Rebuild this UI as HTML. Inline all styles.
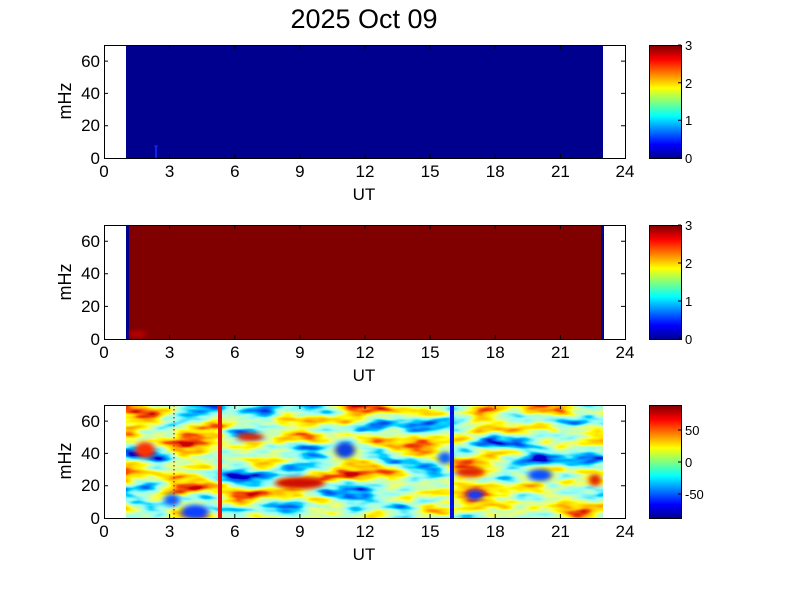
<!DOCTYPE html><html><head><style>
body{margin:0;background:#fff;width:801px;height:600px;overflow:hidden;font-family:"Liberation Sans",sans-serif}
</style></head><body>
<svg width="801" height="600" xmlns="http://www.w3.org/2000/svg" font-family="Liberation Sans, sans-serif">
<defs>
<linearGradient id="jet" x1="0" y1="1" x2="0" y2="0">
<stop offset="0" stop-color="#00008f"/><stop offset="0.125" stop-color="#0000ff"/><stop offset="0.375" stop-color="#00ffff"/><stop offset="0.625" stop-color="#ffff00"/><stop offset="0.875" stop-color="#ff0000"/><stop offset="1" stop-color="#800000"/>
</linearGradient>
<filter id="bl" x="-20%" y="-50%" width="140%" height="200%"><feGaussianBlur stdDeviation="3 2"/></filter>
<filter id="noise" x="0" y="0" width="100%" height="100%">
<feTurbulence type="fractalNoise" baseFrequency="0.018 0.06" numOctaves="3" seed="7"/>
<feColorMatrix type="matrix" values="1.6 0 0 0 -0.3  1.6 0 0 0 -0.3  1.6 0 0 0 -0.3  0 0 0 0 1"/>
<feComponentTransfer>
<feFuncR type="table" tableValues="0 0 0 0.3 0.6 1 1 1 0.6"/>
<feFuncG type="table" tableValues="0 0.2 0.7 1 1 1 0.6 0.1 0"/>
<feFuncB type="table" tableValues="0.6 1 1 0.9 0.4 0 0 0 0"/>
</feComponentTransfer>
</filter>
<clipPath id="c3"><rect x="126" y="405" width="477" height="113"/></clipPath>
</defs>
<text x="364" y="28" font-size="27" text-anchor="middle">2025 Oct 09</text>

<rect x="126" y="45" width="477" height="113" fill="#00008f"/>
<line x1="156" y1="146" x2="156" y2="158" stroke="#1030ff" stroke-width="1.5"/>
<line x1="154" y1="146" x2="158" y2="146" stroke="#1030ff"/>
<rect x="126" y="225" width="477" height="114" fill="#800000"/>
<rect x="126" y="225" width="3" height="114" fill="#00008f"/>
<rect x="601" y="225" width="3" height="114" fill="#00008f"/>
<rect x="130" y="331" width="15" height="6" fill="#c00000" filter="url(#bl)"/>
<g clip-path="url(#c3)">
<rect x="126" y="405" width="477" height="113" fill="#9cff60" filter="url(#noise)"/>
<g filter="url(#bl)">
<ellipse cx="145" cy="450" rx="10" ry="8" fill="#ff3000"/>
<ellipse cx="172" cy="500" rx="8" ry="6" fill="#1060ff"/>
<ellipse cx="195" cy="512" rx="14" ry="7" fill="#1040ff"/>
<ellipse cx="250" cy="437" rx="14" ry="4" fill="#e02000"/>
<ellipse cx="300" cy="483" rx="25" ry="6" fill="#d01000"/>
<ellipse cx="345" cy="450" rx="10" ry="8" fill="#1040e0"/>
<ellipse cx="445" cy="458" rx="7" ry="6" fill="#1060ff"/>
<ellipse cx="470" cy="472" rx="15" ry="5" fill="#e02000"/>
<ellipse cx="475" cy="495" rx="8" ry="5" fill="#1040ff"/>
<ellipse cx="540" cy="475" rx="12" ry="6" fill="#1050ff"/>
<ellipse cx="595" cy="480" rx="6" ry="6" fill="#e02000"/>
</g>
<rect x="218" y="405" width="4" height="113" fill="#e01010"/>
<rect x="450" y="405" width="4" height="113" fill="#0010e0"/>
<line x1="174" y1="405" x2="174" y2="518" stroke="#d03030" stroke-dasharray="1.5 2.5" stroke-width="1.5"/>
</g>

<g fill="none" stroke="#000" stroke-width="1">
<rect x="104.5" y="45.5" width="521" height="113"/>
<rect x="104.5" y="225.5" width="521" height="114"/>
<rect x="104.5" y="405.5" width="521" height="113"/>
</g>
<g stroke="#000">
<path d="M169.6 158v-4M234.8 158v-4M299.9 158v-4M365 158v-4M430.1 158v-4M495.2 158v-4M560.4 158v-4M169.6 45v4M234.8 45v4M299.9 45v4M365 45v4M430.1 45v4M495.2 45v4M560.4 45v4"/>
<path d="M169.6 339v-4M234.8 339v-4M299.9 339v-4M365 339v-4M430.1 339v-4M495.2 339v-4M560.4 339v-4M169.6 225v4M234.8 225v4M299.9 225v4M365 225v4M430.1 225v4M495.2 225v4M560.4 225v4"/>
<path d="M169.6 518v-4M234.8 518v-4M299.9 518v-4M365 518v-4M430.1 518v-4M495.2 518v-4M560.4 518v-4M169.6 405v4M234.8 405v4M299.9 405v4M365 405v4M430.1 405v4M495.2 405v4M560.4 405v4"/>
<path d="M104 125.7h4M104 93.4h4M104 61.1h4M625 125.7h-4M625 93.4h-4M625 61.1h-4"/>
<path d="M104 306.4h4M104 273.8h4M104 241.3h4M625 306.4h-4M625 273.8h-4M625 241.3h-4"/>
<path d="M104 485.7h4M104 453.4h4M104 421.1h4M625 485.7h-4M625 453.4h-4M625 421.1h-4"/>
</g>
<g font-size="17" text-anchor="middle">
<g><text x="104" y="177">0</text><text x="169.6" y="177">3</text><text x="234.8" y="177">6</text><text x="299.9" y="177">9</text><text x="365" y="177">12</text><text x="430.1" y="177">15</text><text x="495.2" y="177">18</text><text x="560.4" y="177">21</text><text x="625" y="177">24</text><text x="364" y="200">UT</text></g>
<g transform="translate(0,181)"><text x="104" y="177">0</text><text x="169.6" y="177">3</text><text x="234.8" y="177">6</text><text x="299.9" y="177">9</text><text x="365" y="177">12</text><text x="430.1" y="177">15</text><text x="495.2" y="177">18</text><text x="560.4" y="177">21</text><text x="625" y="177">24</text><text x="364" y="200">UT</text></g>
<g transform="translate(0,360)"><text x="104" y="177">0</text><text x="169.6" y="177">3</text><text x="234.8" y="177">6</text><text x="299.9" y="177">9</text><text x="365" y="177">12</text><text x="430.1" y="177">15</text><text x="495.2" y="177">18</text><text x="560.4" y="177">21</text><text x="625" y="177">24</text><text x="364" y="200">UT</text></g>
</g>
<g font-size="17" text-anchor="end">
<text x="100" y="164">0</text><text x="100" y="131">20</text><text x="100" y="99">40</text><text x="100" y="67">60</text>
<text x="100" y="345">0</text><text x="100" y="312">20</text><text x="100" y="279">40</text><text x="100" y="247">60</text>
<text x="100" y="524">0</text><text x="100" y="491">20</text><text x="100" y="459">40</text><text x="100" y="427">60</text>
</g>
<g font-size="18" text-anchor="middle">
<text transform="translate(71,101) rotate(-90)">mHz</text>
<text transform="translate(71,282) rotate(-90)">mHz</text>
<text transform="translate(71,461) rotate(-90)">mHz</text>
</g>
<rect x="649.5" y="45.5" width="32" height="113" fill="url(#jet)" stroke="#000"/>
<rect x="649.5" y="225.5" width="32" height="114" fill="url(#jet)" stroke="#000"/>
<rect x="649.5" y="405.5" width="32" height="113" fill="url(#jet)" stroke="#000"/>
<g stroke="#000"><path d="M681 158h-3M681 120.3h-3M681 82.7h-3M681 45h-3M681 339h-3M681 301h-3M681 263h-3M681 225h-3M681 430h-3M681 462h-3M681 494h-3"/></g>
<g font-size="13">
<text x="685" y="163">0</text><text x="685" y="125">1</text><text x="685" y="88">2</text><text x="685" y="50">3</text>
<text x="685" y="344">0</text><text x="685" y="306">1</text><text x="685" y="268">2</text><text x="685" y="230">3</text>
<text x="685" y="435">50</text><text x="685" y="467">0</text><text x="685" y="499">-50</text>
</g>
</svg>
</body></html>
